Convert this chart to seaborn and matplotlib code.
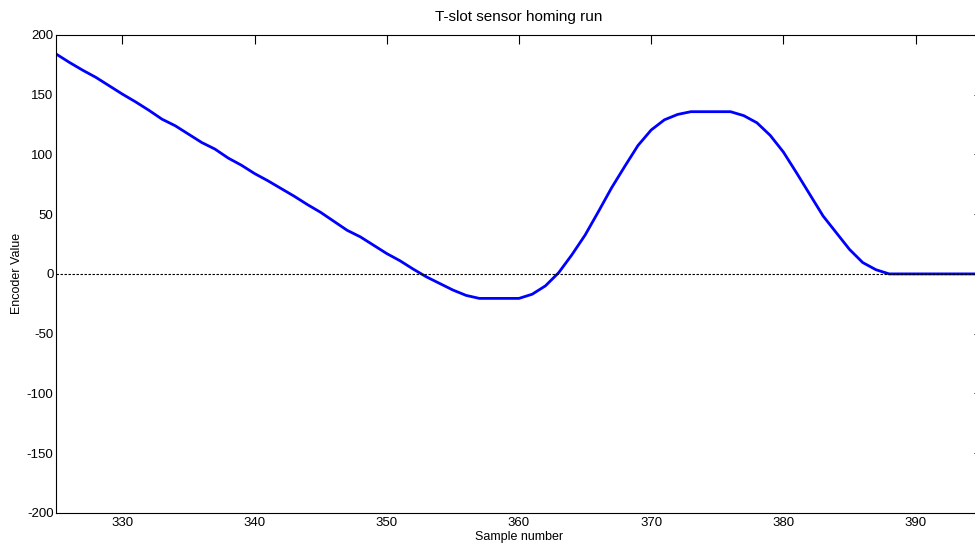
import matplotlib
matplotlib.use("Agg")
import matplotlib.pyplot as plt
import seaborn as sns
import pandas as pd

samples = list(range(325, 396))
encoder_values = [
    184, 177, 170.5, 164.5, 157.5, 150.5, 144, 137, 129.5, 124,
    117, 110, 104.5, 97, 91, 84, 78, 71.5, 65, 58,
    51.5, 44, 36.5, 31, 24, 17, 11, 4, -2.5, -8,
    -13.5, -18, -20.5, -20.5, -20.5, -20.5, -17, -10, 1, 16,
    32.5, 52, 72, 90, 107.5, 120.5, 129, 133.5, 135.8, 135.8,
    135.8, 135.8, 132.5, 126.5, 116, 102, 84.5, 66.5, 48.5, 34.5,
    20.5, 9.5, 3.5, 0, 0, 0, 0, 0, 0, 0, 0,
]
x_ticks = [330, 340, 350, 360, 370, 380, 390]
y_ticks = [-200, -150, -100, -50, 0, 50, 100, 150, 200]

df = pd.DataFrame({"Sample number": samples, "Encoder Value": encoder_values})

sns.set_theme(style="white")
plt.rcParams["font.family"] = ["Liberation Sans", "DejaVu Sans"]
plt.rcParams["axes.unicode_minus"] = False

fig = plt.figure(figsize=(9.75, 5.43), dpi=100)
ax = fig.add_axes([56.3 / 975, (543 - 512.8) / 543, (981.7 - 56.3) / 975, (512.8 - 35) / 543])

sns.lineplot(data=df, x="Sample number", y="Encoder Value", ax=ax,
             color=(0, 0, 1), linewidth=2.0, zorder=2)
ax.axhline(0, color="black", linewidth=0.8, linestyle=(0, (2.2, 1.4)), zorder=3)

ax.set_xlim(325, 395)
ax.set_ylim(-200, 200)
ax.set_xticks(x_ticks)
ax.set_yticks(y_ticks)
ax.set_xticklabels([str(v) for v in x_ticks])
ax.set_yticklabels([str(v) for v in y_ticks])

for s in ax.spines.values():
    s.set_visible(True)
    s.set_color("black")
    s.set_linewidth(0.8)

ax.tick_params(axis="both", direction="in", top=True, right=True,
               colors="black", labelsize=9.5, width=0.8)
ax.tick_params(axis="x", length=6.5, pad=3)
ax.tick_params(axis="y", length=6, pad=2)

ax.set_title("T-slot sensor homing run", fontsize=11, pad=10, color="black")
ax.set_xlabel("Sample number", fontsize=9, labelpad=1.5, color="black")
ax.set_ylabel("Encoder Value", fontsize=9, labelpad=2.5, color="black")
ax.grid(False)
ax.set_facecolor("white")
fig.patch.set_facecolor("white")

fig.savefig("out.png", dpi=100)
